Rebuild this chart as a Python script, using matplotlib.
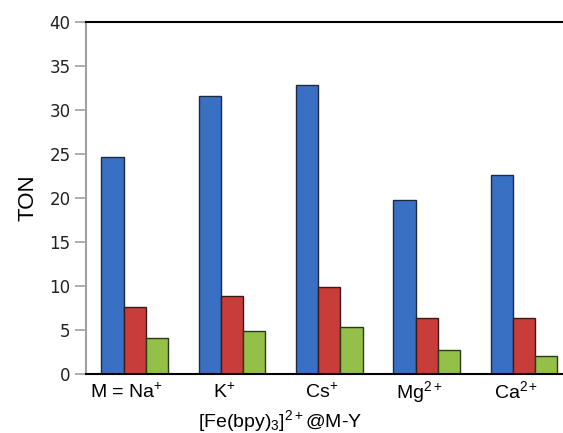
import numpy as np
import matplotlib
matplotlib.use("Agg")
import matplotlib.pyplot as plt

plt.rcParams['font.family'] = ['Liberation Sans', 'DejaVu Sans']
plt.rcParams['mathtext.fontset'] = 'custom'
plt.rcParams['mathtext.rm'] = 'Liberation Sans'
plt.rcParams['mathtext.it'] = 'Liberation Sans:italic'

# data
cations = [r'M = Na$^{+}$', r'K$^{+}$', r'Cs$^{+}$', r'Mg$^{2+}$', r'Ca$^{2+}$']
ton_blue = [24.7, 31.6, 32.8, 19.8, 22.6]
ton_red = [7.6, 8.9, 9.9, 6.4, 6.4]
ton_green = [4.05, 4.9, 5.3, 2.7, 2.1]
y_ticks = [0, 5, 10, 15, 20, 25, 30, 35, 40]

fig = plt.figure(figsize=(5.63, 4.33), dpi=100)
ax = fig.add_axes([86/563, 1-374/433, 1-86/563, (374-22)/433])

x = np.arange(len(cations))
w = 0.228
ax.bar(x - w, ton_blue, w, color='#3a70c4', edgecolor='#1c2a44', linewidth=1)
ax.bar(x, ton_red, w, color='#c83c3a', edgecolor='#3a1a1a', linewidth=1)
ax.bar(x + w, ton_green, w, color='#94bf48', edgecolor='#2c3a1c', linewidth=1)

ax.set_xlim(-0.5, 4.4)
ax.set_ylim(0, 40)
ax.set_yticks(y_ticks)
ax.tick_params(axis='y', direction='out', length=8, color='#a0a0a0', width=1.2,
               labelsize=12, pad=3)
for lab in ax.get_yticklabels():
    lab.set_family('DejaVu Sans')
    lab.set_color('#222222')
ax.set_xticks(x - 0.08)
ax.set_xticklabels(cations, fontsize=14)
ax.tick_params(axis='x', length=0, pad=17)
for lab in ax.get_xticklabels():
    lab.set_verticalalignment('baseline')

ax.spines['left'].set_color('#a0a0a0')
ax.spines['left'].set_linewidth(1.5)
ax.spines['top'].set_color('black')
ax.spines['top'].set_linewidth(1.5)
ax.spines['bottom'].set_color('black')
ax.spines['bottom'].set_linewidth(1.5)
ax.spines['right'].set_visible(False)

ax.set_ylabel('TON', fontsize=16, labelpad=8)
fig.text(280/563, 1-421/433, r'[Fe(bpy)$_{3}$]$^{2+}$@M-Y', fontsize=14,
         ha='center', va='center')

fig.savefig('out.png', dpi=100)
